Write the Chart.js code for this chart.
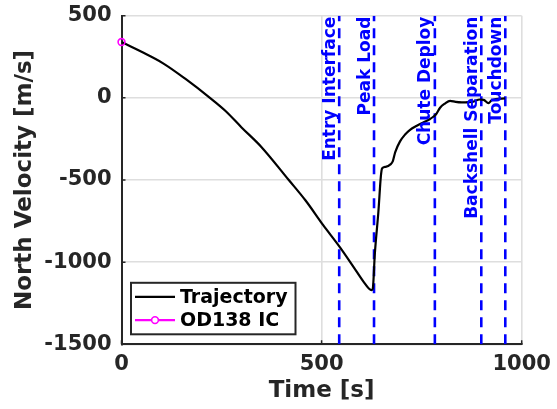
<!DOCTYPE html>
<html>
<head>
<meta charset="utf-8">
<script src="https://cdn.jsdelivr.net/npm/chart.js@4.4.1/dist/chart.umd.min.js"></script>
<style>
  html, body { margin: 0; padding: 0; background: #fff; }
  #wrap { width: 557px; height: 409px; }
</style>
</head>
<body>
<div id="wrap"><canvas id="velChart" width="557" height="409"></canvas></div>
<script>
// values
const trajTime = [0, 50, 104, 160, 221, 260, 300, 350, 418, 460, 504, 546, 580, 605, 618, 625, 628,
  633, 642, 648, 651, 660, 672, 678, 684, 696, 708, 721, 738, 754, 770, 779, 786, 796, 808, 821,
  835, 850, 879, 895, 905, 917, 925, 935, 958];
const trajVel = [340, 280, 210, 115, 0, -80, -180, -300, -500, -625, -775, -910, -1030, -1120, -1160, -1170, -1160,
  -950, -690, -480, -430, -420, -405, -385, -330, -265, -225, -195, -170, -150, -130, -115, -100, -60, -35, -18,
  -25, -28, -23, -10, -12, -32, -15, -8, -3];

const icTime = [0];
const icVel = [340];

const eventNames = ['Entry Interface', 'Peak Load', 'Chute Deploy', 'Backshell Separation', 'Touchdown'];
const eventTimes = [544, 631, 783, 899, 959];

const xMin = 0, xMax = 1000, xStep = 500;
const yMin = -1500, yMax = 500, yStep = 500;

const FONT = '"DejaVu Sans", sans-serif';
const AXIS_COLOR = '#262626';

const toPoints = (xs, ys) => xs.map((t, i) => ({ x: t, y: ys[i] }));

const datasets = [
  {
    label: 'OD138 IC',
    data: toPoints(icTime, icVel),
    borderColor: '#ff00ff',
    backgroundColor: 'rgba(0,0,0,0)',
    borderWidth: 1.6,
    pointRadius: 3.4,
    pointBorderWidth: 1.6,
    showLine: false,
    clip: false
  },
  {
    label: 'Trajectory',
    data: toPoints(trajTime, trajVel),
    borderColor: '#000',
    borderWidth: 2.2,
    pointRadius: 0,
    cubicInterpolationMode: 'monotone'
  }
];

// each event is a vertical dashed line spanning the y range
eventTimes.forEach((t, i) => {
  datasets.push({
    label: eventNames[i],
    isEvent: true,
    data: [{ x: t, y: yMin }, { x: t, y: yMax }],
    borderColor: '#0000ff',
    borderWidth: 2.6,
    borderDash: [10, 7],
    pointRadius: 0
  });
});

// rotated event labels, inward tick marks and the boxed legend
const decorations = {
  id: 'decorations',
  afterDatasetsDraw(chart) {
    const { ctx, chartArea, scales: { x, y } } = chart;
    ctx.save();
    ctx.font = 'bold 17px ' + FONT;
    ctx.fillStyle = '#0000ff';
    ctx.textAlign = 'right';
    ctx.textBaseline = 'alphabetic';
    eventNames.forEach((name, i) => {
      const px = x.getPixelForValue(eventTimes[i]);
      ctx.save();
      ctx.translate(px - 4.5, chartArea.top + 1);
      ctx.rotate(-Math.PI / 2);
      ctx.fillText(name, 0, 0);
      ctx.restore();
    });

    // MATLAB style ticks pointing inward
    ctx.strokeStyle = AXIS_COLOR;
    ctx.lineWidth = 1.5;
    ctx.beginPath();
    x.ticks.forEach(tk => {
      const px = x.getPixelForValue(tk.value);
      ctx.moveTo(px, chartArea.bottom);
      ctx.lineTo(px, chartArea.bottom - 4);
    });
    y.ticks.forEach(tk => {
      const py = y.getPixelForValue(tk.value);
      ctx.moveTo(chartArea.left, py);
      ctx.lineTo(chartArea.left + 4, py);
    });
    ctx.stroke();
    ctx.restore();
  },
  afterDraw(chart) {
    const { ctx, chartArea } = chart;
    const entries = chart.data.datasets.filter(d => !d.isEvent).slice().reverse();
    const bx = chartArea.left + 9.5, by = chartArea.bottom - 61.5;
    const bw = 164.5, bh = 51.5;
    ctx.save();
    ctx.fillStyle = '#fff';
    ctx.fillRect(bx, by, bw, bh);
    ctx.strokeStyle = AXIS_COLOR;
    ctx.lineWidth = 2;
    ctx.strokeRect(bx, by, bw, bh);
    ctx.font = 'bold 19px ' + FONT;
    ctx.textAlign = 'left';
    ctx.textBaseline = 'middle';
    entries.forEach((d, i) => {
      const ly = by + 14 + i * 23.3;
      ctx.strokeStyle = d.borderColor;
      ctx.lineWidth = 2.2;
      ctx.beginPath();
      ctx.moveTo(bx + 4, ly);
      ctx.lineTo(bx + 44, ly);
      ctx.stroke();
      if (d.showLine === false) {
        ctx.lineWidth = d.pointBorderWidth;
        ctx.beginPath();
        ctx.arc(bx + 24, ly, d.pointRadius, 0, Math.PI * 2);
        ctx.fillStyle = '#fff';
        ctx.fill();
        ctx.stroke();
      }
      ctx.fillStyle = '#000';
      ctx.fillText(d.label, bx + 49, ly + 1);
    });
    ctx.restore();
  }
};

const plainTick = v => String(v);

new Chart(document.getElementById('velChart').getContext('2d'), {
  type: 'line',
  data: { datasets: datasets },
  options: {
    responsive: false,
    animation: false,
    layout: { padding: { top: 15.7, right: 35.3, bottom: 0, left: 0 } },
    plugins: { legend: { display: false }, tooltip: { enabled: false } },
    scales: {
      x: {
        type: 'linear',
        min: xMin, max: xMax,
        // fixed axis band; edge labels fit inside the layout padding
        afterFit: s => { s.height = 64.7; s.paddingLeft = 0; s.paddingRight = 0; },
        ticks: { stepSize: xStep, padding: 8, color: AXIS_COLOR, callback: plainTick,
          font: { family: FONT, size: 21, weight: 'bold' } },
        grid: { color: '#dedede', lineWidth: 1.6, drawTicks: false },
        border: { color: AXIS_COLOR, width: 2 },
        title: { display: true, text: 'Time [s]', color: AXIS_COLOR, padding: { top: 0, bottom: 4 },
          font: { family: FONT, size: 23, weight: 'bold' } }
      },
      y: {
        type: 'linear',
        min: yMin, max: yMax,
        afterFit: s => { s.width = 121.5; s.paddingTop = 0; s.paddingBottom = 0; },
        ticks: { stepSize: yStep, padding: 10, color: AXIS_COLOR, callback: plainTick,
          font: { family: FONT, size: 21, weight: 'bold' } },
        grid: { color: '#dedede', lineWidth: 1.6, drawTicks: false },
        border: { color: AXIS_COLOR, width: 2 },
        title: { display: true, text: 'North Velocity [m/s]', color: AXIS_COLOR, padding: { top: 11.3, bottom: 0 },
          font: { family: FONT, size: 23, weight: 'bold' } }
      }
    }
  },
  plugins: [decorations]
});
</script>
</body>
</html>
